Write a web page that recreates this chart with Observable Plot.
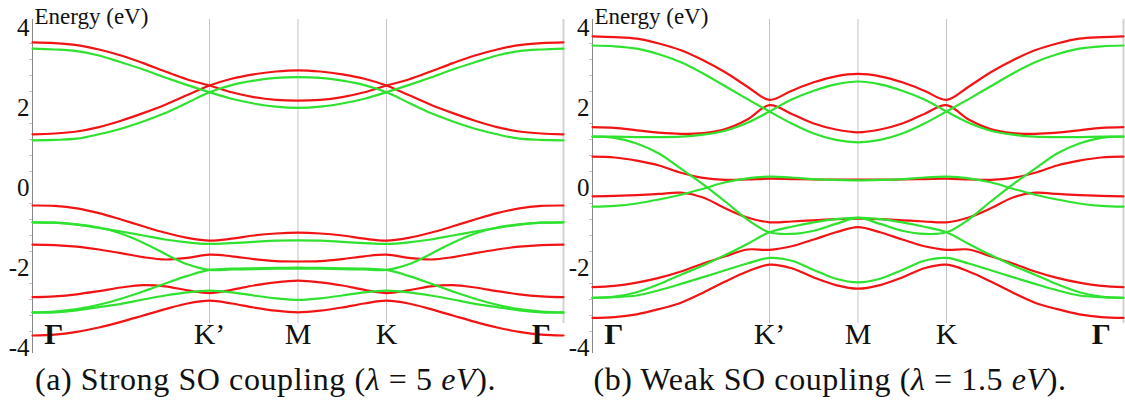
<!DOCTYPE html>
<html><head><meta charset="utf-8">
<script src="https://cdn.jsdelivr.net/npm/d3@7"></script>
<script src="https://cdn.jsdelivr.net/npm/@observablehq/plot@0.6"></script>
<style>
body{margin:0;background:#fff;width:1125px;height:407px;overflow:hidden;position:relative;font-family:"Liberation Serif","DejaVu Serif",serif}
.panel{position:absolute;top:0}
.cap{position:absolute;top:361px;font-size:32px;letter-spacing:0.6px;white-space:nowrap;text-align:center;color:#111;line-height:37px}
</style></head><body>
<div id="pa" class="panel" style="left:0"></div>
<div id="pb" class="panel" style="left:565px"></div>
<div class="cap" style="left:0;width:531px">(a) Strong SO coupling (<i>λ</i> = 5 <i>eV</i>).</div>
<div class="cap" style="left:530px;width:600px">(b) Weak SO coupling (<i>λ</i> = 1.5 <i>eV</i>).</div>
<script>
// path coordinate: Γ=0, K'=2, M=3, K=4, Γ=6
const kpath = [0,0.25,0.5,0.75,1,1.25,1.5,1.75,2,2.25,2.5,2.75,3,3.25,3.5,3.75,4,4.25,4.5,4.75,5,5.25,5.5,5.75,6];
const symLabels = ["Γ","K’","M","K","Γ"];
const symPos = [0.24,2,3,4,5.75];
const gridPos = [2,3,4];
const edgePos = [6];
const yTicks = [-4,-2,0,2,4];
const yTickLabels = ["-4","-2","0","2","4"];
const yMinor = [-3.6,-3.2,-2.8,-2.4,-1.6,-1.2,-0.8,-0.4,0.4,0.8,1.2,1.6,2.4,2.8,3.2,3.6];
const yLabel = "Energy (eV)";
const FONT = '"Liberation Serif","DejaVu Serif",serif';

// (a) strong SO coupling — red bands
const aRed1 = [3.63,3.61,3.56,3.45,3.3,3.11,2.9,2.7,2.55,2.38,2.26,2.19,2.17,2.19,2.26,2.38,2.55,2.7,2.9,3.11,3.3,3.45,3.56,3.61,3.63];
const aRed2 = [1.33,1.35,1.4,1.51,1.67,1.86,2.07,2.31,2.55,2.72,2.83,2.9,2.93,2.9,2.83,2.72,2.55,2.31,2.07,1.86,1.67,1.51,1.4,1.35,1.33];
const aRed3 = [-0.45,-0.46,-0.52,-0.64,-0.8,-0.97,-1.13,-1.26,-1.33,-1.28,-1.2,-1.15,-1.13,-1.15,-1.2,-1.28,-1.33,-1.26,-1.13,-0.97,-0.8,-0.64,-0.52,-0.46,-0.45];
const aRed4 = [-1.43,-1.44,-1.48,-1.55,-1.64,-1.74,-1.8,-1.76,-1.68,-1.72,-1.79,-1.84,-1.85,-1.84,-1.79,-1.72,-1.68,-1.76,-1.8,-1.74,-1.64,-1.55,-1.48,-1.44,-1.43];
const aRed5 = [-2.74,-2.72,-2.67,-2.59,-2.5,-2.44,-2.47,-2.57,-2.64,-2.56,-2.45,-2.37,-2.33,-2.37,-2.45,-2.56,-2.64,-2.57,-2.47,-2.44,-2.5,-2.59,-2.67,-2.72,-2.74];
const aRed6 = [-3.7,-3.68,-3.61,-3.5,-3.36,-3.2,-3.04,-2.9,-2.83,-2.9,-3.0,-3.08,-3.12,-3.08,-3.0,-2.9,-2.83,-2.9,-3.04,-3.2,-3.36,-3.5,-3.61,-3.68,-3.7];
// (a) green bands
const aGreen1 = [3.47,3.45,3.41,3.3,3.13,2.95,2.75,2.56,2.38,2.22,2.1,2.02,1.99,2.02,2.1,2.22,2.38,2.56,2.75,2.95,3.13,3.3,3.41,3.45,3.47];
const aGreen2 = [1.18,1.19,1.22,1.33,1.47,1.65,1.86,2.12,2.38,2.56,2.67,2.74,2.76,2.74,2.67,2.56,2.38,2.12,1.86,1.65,1.47,1.33,1.22,1.19,1.18];
const aGreen3 = [-0.87,-0.88,-0.93,-1.01,-1.1,-1.2,-1.3,-1.37,-1.41,-1.39,-1.36,-1.33,-1.32,-1.33,-1.36,-1.39,-1.41,-1.37,-1.3,-1.2,-1.1,-1.01,-0.93,-0.88,-0.87];
const aGreen4 = [-0.87,-0.88,-0.92,-1.0,-1.15,-1.38,-1.66,-1.92,-2.06,-2.05,-2.04,-2.03,-2.03,-2.03,-2.04,-2.05,-2.06,-1.92,-1.66,-1.38,-1.15,-1.0,-0.92,-0.88,-0.87];
const aGreen5 = [-3.12,-3.1,-3.04,-2.93,-2.78,-2.6,-2.4,-2.21,-2.06,-2.03,-2.02,-2.01,-2.0,-2.01,-2.02,-2.03,-2.06,-2.21,-2.4,-2.6,-2.78,-2.93,-3.04,-3.1,-3.12];
const aGreen6 = [-3.13,-3.12,-3.07,-2.99,-2.91,-2.8,-2.7,-2.62,-2.58,-2.62,-2.7,-2.77,-2.81,-2.77,-2.7,-2.62,-2.58,-2.62,-2.7,-2.8,-2.91,-2.99,-3.07,-3.12,-3.13];

// (b) weak SO coupling — red bands
const bRed1 = [3.78,3.76,3.72,3.6,3.43,3.18,2.88,2.52,2.19,2.42,2.63,2.78,2.84,2.78,2.63,2.42,2.19,2.52,2.88,3.18,3.43,3.6,3.72,3.76,3.78];
const bRed2 = [1.51,1.49,1.43,1.37,1.34,1.36,1.46,1.7,2.06,1.84,1.6,1.45,1.38,1.45,1.6,1.84,2.06,1.7,1.46,1.36,1.34,1.37,1.43,1.49,1.51];
const bRed3 = [0.77,0.75,0.67,0.55,0.37,0.24,0.19,0.2,0.22,0.21,0.2,0.2,0.2,0.2,0.2,0.21,0.22,0.2,0.19,0.24,0.37,0.55,0.67,0.75,0.77];
const bRed4 = [-0.22,-0.21,-0.19,-0.16,-0.13,-0.25,-0.52,-0.75,-0.87,-0.85,-0.82,-0.79,-0.78,-0.79,-0.82,-0.85,-0.87,-0.75,-0.52,-0.25,-0.13,-0.16,-0.19,-0.21,-0.22];
const bRed5 = [-2.49,-2.46,-2.38,-2.26,-2.1,-1.9,-1.72,-1.55,-1.56,-1.47,-1.3,-1.12,-0.99,-1.12,-1.3,-1.47,-1.56,-1.55,-1.72,-1.9,-2.1,-2.26,-2.38,-2.46,-2.49];
const bRed6 = [-3.26,-3.24,-3.17,-3.04,-2.88,-2.63,-2.35,-2.1,-1.93,-2.02,-2.25,-2.44,-2.53,-2.44,-2.25,-2.02,-1.93,-2.1,-2.35,-2.63,-2.88,-3.04,-3.17,-3.24,-3.26];
// (b) green bands
const bGreen1 = [3.55,3.53,3.47,3.33,3.13,2.85,2.53,2.21,1.9,1.6,1.35,1.19,1.13,1.19,1.35,1.6,1.9,2.21,2.53,2.85,3.13,3.33,3.47,3.53,3.55];
const bGreen2 = [1.27,1.27,1.26,1.26,1.27,1.32,1.42,1.62,1.9,2.2,2.42,2.58,2.65,2.58,2.42,2.2,1.9,1.62,1.42,1.32,1.27,1.26,1.26,1.27,1.27];
const bGreen3 = [1.27,1.24,1.1,0.85,0.47,0.08,-0.35,-0.8,-1.12,-1.16,-1.08,-0.91,-0.76,-0.91,-1.08,-1.16,-1.12,-0.8,-0.35,0.08,0.47,0.85,1.1,1.24,1.27];
const bGreen4 = [-0.48,-0.46,-0.4,-0.3,-0.18,-0.03,0.13,0.23,0.27,0.25,0.21,0.19,0.18,0.19,0.21,0.25,0.27,0.23,0.13,-0.03,-0.18,-0.3,-0.4,-0.46,-0.48];
const bGreen5 = [-2.76,-2.73,-2.62,-2.42,-2.18,-1.95,-1.69,-1.41,-1.12,-0.98,-0.87,-0.79,-0.75,-0.79,-0.87,-0.98,-1.12,-1.41,-1.69,-1.95,-2.18,-2.42,-2.62,-2.73,-2.76];
const bGreen6 = [-2.76,-2.74,-2.7,-2.57,-2.41,-2.24,-2.07,-1.9,-1.76,-1.83,-2.06,-2.28,-2.37,-2.28,-2.06,-1.83,-1.76,-1.9,-2.07,-2.24,-2.41,-2.57,-2.7,-2.74,-2.76];

const RED = "#f21414", GREEN = "#2fe22f";

function rows(bands) {
  const out = [];
  bands.forEach((b, j) => b.forEach((e, i) => out.push({t: kpath[i], e, id: j})));
  return out;
}

function panel(reds, greens, width, marginLeft) {
  const labelRows = symLabels.map((s, i) => ({s, x: symPos[i]}));
  return Plot.plot({
    width, height: 360,
    marginLeft, marginRight: 2, marginTop: 27, marginBottom: 13,
    x: {domain: [0, 6], axis: null, label: null},
    y: {domain: [-4, 4], axis: null, label: null},
    style: {fontFamily: FONT, background: "white", overflow: "visible", color: "#111"},
    marks: [
      Plot.ruleX(gridPos, {y1: -3.4, y2: 4.2, stroke: "#c4c4c4", strokeWidth: 1}),
      Plot.ruleX(edgePos, {y1: -3.4, y2: 4.2, stroke: "#d4d4d4", strokeWidth: 2}),
      Plot.axisY(yMinor, {tickSize: 3, tickFormat: () => "", label: null, stroke: "#d8b8b8"}),
      Plot.ruleX([0], {y1: -4.15, y2: 4.2, stroke: "#888", strokeWidth: 1}),
      Plot.axisY(yTicks, {tickSize: 0, tickPadding: 3, fontSize: 25, label: null,
        tickFormat: d => yTickLabels[yTicks.indexOf(d)]}),
      Plot.text([yLabel], {frameAnchor: "top-left", text: d => d, textAnchor: "start",
        lineAnchor: "bottom", dx: 2, dy: -4, fontSize: 23, fill: "#111"}),
      Plot.line(rows(reds), {x: "t", y: "e", z: "id", stroke: RED, strokeWidth: 2.2, curve: "catmull-rom"}),
      Plot.line(rows(greens), {x: "t", y: "e", z: "id", stroke: GREEN, strokeWidth: 2.2, curve: "catmull-rom"}),
      Plot.text(labelRows.filter(d => d.s === "Γ"), {x: "x", y: -3.68, text: "s", fontSize: 30, fontWeight: "bold", fill: "#111"}),
      Plot.text(labelRows.filter(d => d.s !== "Γ"), {x: "x", y: -3.68, text: "s", fontSize: 30, fill: "#111"})
    ]
  });
}

document.getElementById("pa").append(panel(
  [aRed1, aRed2, aRed3, aRed4, aRed5, aRed6],
  [aGreen1, aGreen2, aGreen3, aGreen4, aGreen5, aGreen6], 565, 32));
document.getElementById("pb").append(panel(
  [bRed1, bRed2, bRed3, bRed4, bRed5, bRed6],
  [bGreen1, bGreen2, bGreen3, bGreen4, bGreen5, bGreen6], 560, 27));
</script>
</body></html>
